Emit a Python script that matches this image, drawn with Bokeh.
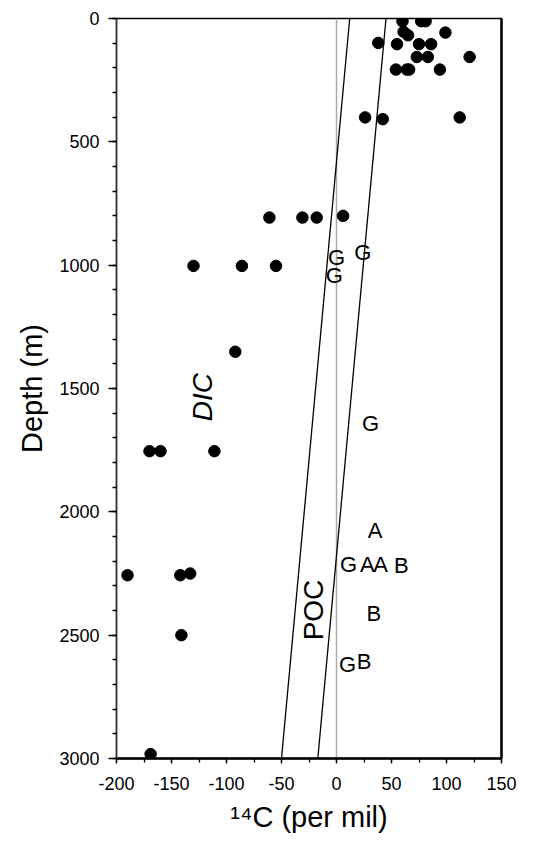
from bokeh.plotting import figure
from bokeh.models import Range1d, SingleIntervalTicker, LinearAxis, FixedTicker, NumeralTickFormatter
from bokeh.core.properties import value
from bokeh.embed import file_html
from bokeh.resources import INLINE

FONT = "Liberation Sans"

# DIC measurements (14C per mil vs depth m)
dic_x = [60, 77, 81, 61, 65, 99, 38, 55, 75, 86, 121, 73, 83, 54, 64, 66, 94,
         26, 42, 112, -61, -31, -18, 6, -130, -86, -55, -92, -170, -160, -111,
         -190, -142, -133, -141, -169]
dic_depth = [11, 11, 11, 54, 68, 57, 99, 104, 104, 104, 156, 156, 156, 207, 207, 207, 207,
             401, 408, 401, 807, 807, 807, 800, 1003, 1003, 1003, 1351, 1754, 1754, 1754,
             2257, 2257, 2250, 2500, 2982]

# POC sample letters
poc_label = ["G", "G", "G", "G", "A", "G", "A", "A", "B", "B", "G", "B"]
poc_x = [0, -2, 24, 31, 35, 11, 28, 40, 59, 34, 10, 25]
poc_depth = [969, 1041, 950, 1640, 2074, 2212, 2212, 2212, 2218, 2412, 2617, 2608]

# POC envelope lines (endpoints)
line1_x = [12, -50]
line2_x = [45, -17]
line_depth = [0, 3000]

# annotations
ann_text = ["DIC", "POC"]
ann_x = [-122, -21]
ann_depth = [1535, 2398]

p = figure(frame_width=385, frame_height=740, output_backend="svg", toolbar_location=None,
           x_range=Range1d(-200, 150), y_range=Range1d(3000, 0),
           min_border_left=116, min_border_right=30, min_border_top=18,
           min_border_bottom=80)
p.grid.visible = False
p.background_fill_color = "white"
p.border_fill_color = "white"
p.outline_line_color = "black"
p.outline_line_width = 1.3

# zero line
p.line([0, 0], [0, 3000], line_color="#aaaaaa", line_width=1.5)

p.line(line1_x, line_depth, line_color="black", line_width=1.3)
p.line(line2_x, line_depth, line_color="black", line_width=1.3)

p.scatter(dic_x, dic_depth, size=11.5, marker="circle", fill_color="black", line_color="black")

p.text(poc_x, poc_depth, text=poc_label, text_font=value(FONT), text_font_size="22px",
       text_align="center", text_baseline="middle", text_color="black")

p.text([ann_x[0]], [ann_depth[0]], text=[ann_text[0]], angle=1.5708, text_font=value(FONT),
       text_font_size="28px", text_font_style="italic", text_align="center",
       text_baseline="middle", text_color="black")
p.text([ann_x[1]], [ann_depth[1]], text=[ann_text[1]], angle=1.5708, text_font=value(FONT),
       text_font_size="28px", text_align="center",
       text_baseline="middle", text_color="black")

p.xaxis.ticker = SingleIntervalTicker(interval=50, num_minor_ticks=2)
p.yaxis.ticker = SingleIntervalTicker(interval=500, num_minor_ticks=5)
p.xaxis.formatter = NumeralTickFormatter(format="0")

for ax in (p.xaxis[0], p.yaxis[0]):
    ax.major_tick_in = 0
    ax.minor_tick_in = 0
    ax.major_tick_line_color = "black"
    ax.minor_tick_line_color = "black"
    ax.major_tick_line_width = 1.3
    ax.minor_tick_line_width = 1.3
    ax.major_label_text_font = FONT
    ax.major_label_text_font_size = "18px"
    ax.major_label_text_color = "black"
    ax.axis_label_text_font = FONT
    ax.axis_label_text_font_size = "29px"
    ax.axis_label_text_font_style = "normal"
    ax.axis_label_text_color = "black"

p.yaxis.major_tick_out = 8
p.yaxis.minor_tick_out = 4
p.xaxis.major_tick_out = 5
p.xaxis.minor_tick_out = 4
p.yaxis.axis_line_width = 1.6
p.yaxis.axis_line_color = "#333333"
p.xaxis.axis_line_width = 2.5
p.xaxis.axis_line_color = "black"
p.yaxis.axis_label = "Depth (m)"
p.xaxis.axis_label = "\u00b9\u2074C (per mil)"
p.yaxis.major_label_standoff = 9
p.xaxis.major_label_standoff = 13
p.yaxis.axis_label_standoff = 8
p.xaxis.axis_label_standoff = 8

# heavy right border line (no ticks, no labels)
right = LinearAxis(ticker=FixedTicker(ticks=[]), axis_line_width=2.5, axis_line_color="black",
                   major_tick_line_color=None, minor_tick_line_color=None)
p.add_layout(right, "right")

open("out.html", "w").write(file_html(p, INLINE))
